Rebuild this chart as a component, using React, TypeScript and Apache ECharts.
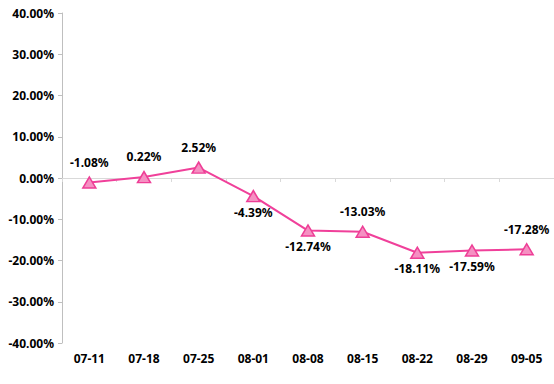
import React, { useEffect, useRef } from "react";
import * as echarts from "echarts";

const categories = ["07-11", "07-18", "07-25", "08-01", "08-08", "08-15", "08-22", "08-29", "09-05"];
const values = [-1.08, 0.22, 2.52, -4.39, -12.74, -13.03, -18.11, -17.59, -17.28];
const labelPositions = ["top", "top", "top", "bottom", "bottom", "top", "bottom", "bottom", "top"];

export default function App() {
  const ref = useRef<HTMLDivElement>(null);
  useEffect(() => {
    const chart = echarts.init(ref.current!, null, { renderer: "svg" });
    const font = "'Noto Sans', 'DejaVu Sans', sans-serif";
    chart.setOption({
      animation: false,
      backgroundColor: "#ffffff",
      grid: { left: 62, right: 0, top: 13, bottom: 41, containLabel: false },
      xAxis: [
        {
          type: "category",
          data: categories,
          boundaryGap: true,
          position: "bottom",
          axisLine: { show: false, onZero: false },
          axisTick: { show: false },
          axisLabel: { color: "#000", fontWeight: "bold", fontSize: 12, fontFamily: font, margin: 9 },
          splitLine: { show: false },
        },
        {
          type: "category",
          data: categories,
          boundaryGap: true,
          position: "bottom",
          axisLine: { show: true, onZero: true, lineStyle: { color: "#d9d9d9", width: 1 } },
          axisTick: { show: true, length: 4, lineStyle: { color: "#d9d9d9" } },
          axisLabel: { show: false },
          splitLine: { show: false },
        },
      ],
      yAxis: {
        type: "value",
        min: -40,
        max: 40,
        interval: 10,
        axisLine: { show: true, lineStyle: { color: "#bfbfbf" } },
        axisTick: { show: true, length: 4, lineStyle: { color: "#bfbfbf" } },
        splitLine: { show: false },
        axisLabel: {
          color: "#000",
          fontWeight: "bold",
          fontSize: 12,
          fontFamily: font,
          margin: 8,
          formatter: (v: number) => v.toFixed(2) + "%",
        },
      },
      series: [
        {
          type: "line",
          xAxisIndex: 0,
          data: values.map((v, i) => ({
            value: v,
            label: {
              position: labelPositions[i],
              distance: labelPositions[i] === "top" ? 8 : 4,
            },
          })),
          symbol: "triangle",
          symbolSize: [13, 11],
          lineStyle: { color: "#f0409a", width: 2 },
          itemStyle: { color: "#f590c2", borderColor: "#ee3e96", borderWidth: 1.5 },
          label: {
            show: true,
            color: "#000",
            fontSize: 12,
            fontWeight: "bold",
            fontFamily: font,
            formatter: (p: any) => p.value.toFixed(2) + "%",
          },
        },
      ],
    });
    return () => chart.dispose();
  }, []);
  return <div ref={ref} style={{ position: "fixed", left: 0, top: 0, width: 554, height: 384 }} />;
}
